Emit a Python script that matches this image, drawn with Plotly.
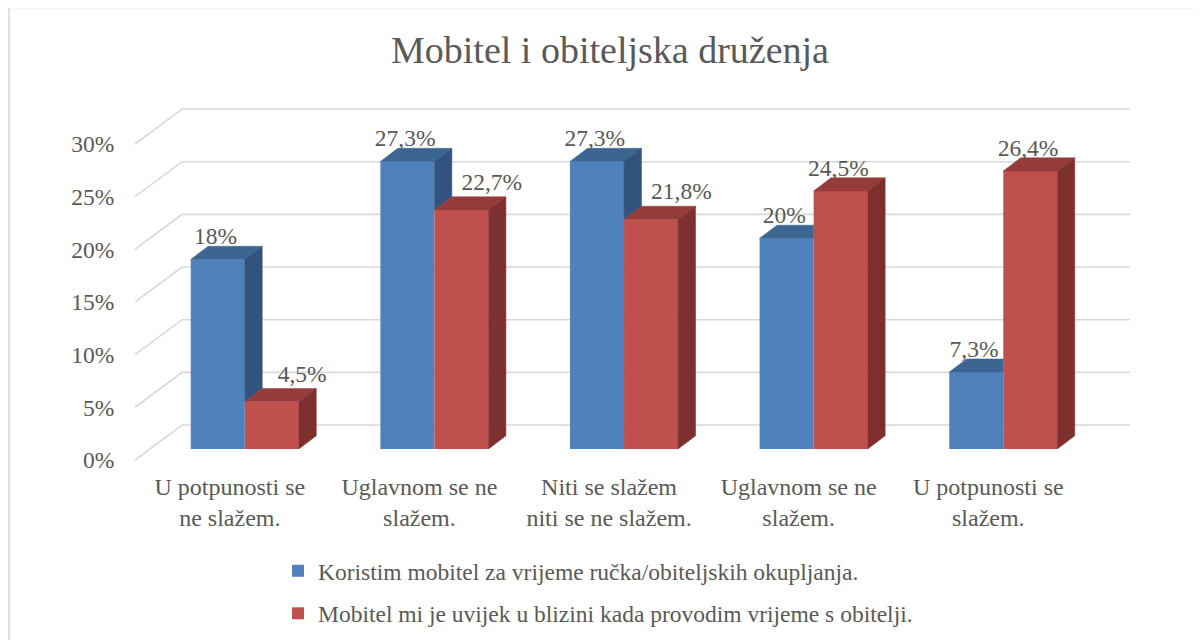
import plotly.graph_objects as go

# ---------------- data ----------------
category_line1 = ["U potpunosti se", "Uglavnom se ne", "Niti se slažem",
                  "Uglavnom se ne", "U potpunosti se"]
category_line2 = ["ne slažem.", "slažem.", "niti se ne slažem.", "slažem.", "slažem."]
series_names = ["Koristim mobitel za vrijeme ručka/obiteljskih okupljanja.",
                "Mobitel mi je uvijek u blizini kada provodim vrijeme s obitelji."]
blue_values = [18, 27.3, 27.3, 20, 7.3]
red_values = [4.5, 22.7, 21.8, 24.5, 26.4]
y_ticks = [0, 5, 10, 15, 20, 25, 30]
y_tick_labels = ["0%", "5%", "10%", "15%", "20%", "25%", "30%"]
title_text = "Mobitel i obiteljska druženja"

# ---------------- style / geometry ----------------
FONT = "Liberation Serif"
TXT = "#595959"
GRID = "#D9D9D9"
BLUE = ("#4F81BD", "#3D6592", "#33537F")   # front, top, side
RED = ("#C0504D", "#953C3A", "#7D302E")

OFF = 8                       # page body margin
W, H = 1203 - OFF, 640 - OFF
ML, MR, MT, MB = 135 - OFF, 63, 100 - OFF, 170
X_RANGE = [-0.5, 4.8]
Y_RANGE = [-0.95, 34.18]

BAR_W = 0.285
FRONT_DX, FRONT_DY = 0.079, 1.045
DEPTH_DX, DEPTH_DY = 0.092, 1.25
WALL_DX, WALL_DY = 0.248, 3.32
X_LEFT, X_RIGHT = -0.5, 4.5


def px2paper_x(px):
    return (px - OFF - ML) / (W - ML - MR)


def px2paper_y(py):
    return (H - MB - (py - OFF)) / (H - MT - MB)


fig = go.Figure()

shapes = []
for v in y_ticks:
    path = (f"M {X_LEFT} {v} L {X_LEFT + WALL_DX} {v + WALL_DY} "
            f"L {X_RIGHT + WALL_DX} {v + WALL_DY}")
    shapes.append(dict(type="path", path=path, xref="x", yref="y", layer="below",
                       line=dict(color=GRID, width=1.6)))

shapes.append(dict(type="rect", xref="paper", yref="paper",
                   x0=px2paper_x(9), x1=px2paper_x(1215),
                   y0=px2paper_y(660), y1=px2paper_y(7.5),
                   line=dict(color=GRID, width=1.6), layer="below"))

xs = list(range(len(category_line1)))
group_x = [x + FRONT_DX for x in xs]

fig.add_trace(go.Bar(x=group_x, y=blue_values, base=FRONT_DY, width=BAR_W, offset=-BAR_W,
                     marker=dict(color=BLUE[0], line=dict(width=0)),
                     name=series_names[0], legendgroup="a"))
fig.add_trace(go.Bar(x=group_x, y=red_values, base=FRONT_DY, width=BAR_W, offset=0,
                     marker=dict(color=RED[0], line=dict(width=0)),
                     name=series_names[1], legendgroup="b"))


def poly(xp, yp, color):
    fig.add_trace(go.Scatter(x=xp + [xp[0]], y=yp + [yp[0]], mode="lines", fill="toself",
                             fillcolor=color, line=dict(color=color, width=0.5),
                             showlegend=False, hoverinfo="skip"))


for i, gx in enumerate(group_x):
    b, r = blue_values[i], red_values[i]
    bt, rt = FRONT_DY + b, FRONT_DY + r
    xl, xr = gx - BAR_W, gx
    if b >= r:
        poly([xl, xr, xr + DEPTH_DX, xl + DEPTH_DX], [bt, bt, bt + DEPTH_DY, bt + DEPTH_DY], BLUE[1])
        poly([xr, xr + DEPTH_DX, xr + DEPTH_DX, xr], [rt, rt + DEPTH_DY, bt + DEPTH_DY, bt], BLUE[2])
    else:
        poly([xl, xr, xr, xl + DEPTH_DX], [bt, bt, bt + DEPTH_DY, bt + DEPTH_DY], BLUE[1])
    xl, xr = gx, gx + BAR_W
    poly([xl, xr, xr + DEPTH_DX, xl + DEPTH_DX], [rt, rt, rt + DEPTH_DY, rt + DEPTH_DY], RED[1])
    poly([xr, xr + DEPTH_DX, xr + DEPTH_DX, xr], [FRONT_DY, FRONT_DY + DEPTH_DY, rt + DEPTH_DY, rt], RED[2])


def fmt(v):
    return f"{v:g}".replace(".", ",") + "%"


lx, ly, lt = [], [], []
for i, gx in enumerate(group_x):
    b, r = blue_values[i], red_values[i]
    lx.append(gx - BAR_W / 2 - 0.012)
    ly.append(FRONT_DY + b + 2.0)
    lt.append(fmt(b))
    if r < b:
        lx.append(gx + BAR_W / 2 + 0.16)
        ly.append(FRONT_DY + r + 2.45)
    else:
        lx.append(gx + BAR_W / 2 - 0.012)
        ly.append(FRONT_DY + r + 2.0)
    lt.append(fmt(r))
# data labels live on the overlaid x2 axis (same scale), which carries the 2nd label line
fig.add_trace(go.Scatter(x=lx, y=ly, text=lt, mode="text", textposition="middle center",
                         textfont=dict(family=FONT, size=23.5, color=TXT), xaxis="x2",
                         showlegend=False, hoverinfo="skip", cliponaxis=False))

fig.update_layout(
    width=W, height=H, autosize=False,
    margin=dict(l=ML, r=MR, t=MT, b=MB, autoexpand=False),
    paper_bgcolor="white", plot_bgcolor="white",
    barmode="overlay",
    shapes=shapes,
    title=dict(text=title_text, x=px2paper_x(610), xref="paper", xanchor="center",
               y=1 - (50 - OFF) / H, yanchor="middle",
               font=dict(family=FONT, size=38, color=TXT)),
    font=dict(family=FONT, color=TXT, size=23.5),
    legend=dict(x=px2paper_x(278), xanchor="left", y=px2paper_y(549), yanchor="top",
                font=dict(family=FONT, size=23.5, color=TXT), tracegroupgap=9,
                itemwidth=30, bgcolor="rgba(0,0,0,0)"),
    showlegend=True,
    xaxis=dict(range=X_RANGE, tickvals=xs, ticktext=category_line1, showgrid=False,
               zeroline=False, showline=False, ticks="", automargin=False,
               tickfont=dict(family=FONT, size=24, color=TXT)),
    xaxis2=dict(range=X_RANGE, tickvals=xs, ticktext=category_line2, showgrid=False,
                zeroline=False, showline=False, ticks="outside", ticklen=26,
                tickcolor="rgba(0,0,0,0)", automargin=False, overlaying="x",
                anchor="y", side="bottom",
                tickfont=dict(family=FONT, size=24, color=TXT)),
    yaxis=dict(range=Y_RANGE, tickvals=y_ticks, ticktext=y_tick_labels, showgrid=False,
               zeroline=False, showline=False, ticks="outside", ticklen=15,
               tickcolor="rgba(0,0,0,0)", automargin=False,
               tickfont=dict(family=FONT, size=23.5, color=TXT)),
)

fig.write_html("out.html")
